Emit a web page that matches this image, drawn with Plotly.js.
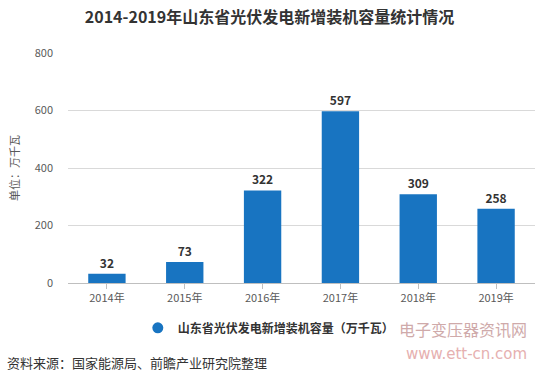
<!DOCTYPE html>
<html><head><meta charset="utf-8">
<script src="https://cdn.plot.ly/plotly-3.0.1.min.js"></script>
<style>html,body{margin:0;padding:0;background:#fff;}#chart{width:550px;height:383px;}</style>
</head><body><div id="chart"></div>
<script>
const years = ["2014年","2015年","2016年","2017年","2018年","2019年"];
const capacity = [32, 73, 322, 597, 309, 258];
const seriesName = "山东省光伏发电新增装机容量（万千瓦）";
const yTicks = [0, 200, 400, 600, 800];
const font = "'Noto Sans CJK SC', 'Microsoft YaHei', sans-serif";
const blue = "#1874c1";

const traces = [
  {type:"bar", x:years, y:capacity, marker:{color:blue}, width:0.48,
   text:capacity.map(String), textposition:"outside", cliponaxis:false,
   textfont:{family:font, size:12, color:"#333"}, texttemplate:"<b>%{text}</b>",
   showlegend:false, hoverinfo:"x+y"},
  {type:"scatter", mode:"markers", x:[null], y:[null], name:"<b>"+seriesName+"</b>",
   marker:{color:blue, size:11, symbol:"circle"}, showlegend:true}
];

const layout = {
  width:550, height:383,
  margin:{l:68, r:15, t:53, b:100},
  paper_bgcolor:"#fff", plot_bgcolor:"#fff",
  font:{family:font, color:"#595959", size:11},
  title:{text:"<b>2014-2019年山东省光伏发电新增装机容量统计情况</b>", x:0.49, xanchor:"center", y:0.955, yanchor:"middle",
         font:{family:font, size:16, color:"#333"}},
  xaxis:{type:"category", showgrid:false, showline:true, linecolor:"#bfbfbf", linewidth:1,
         ticks:"outside", ticklen:5, tickcolor:"#bfbfbf", tickfont:{family:font, size:11, color:"#595959"}},
  yaxis:{range:[0,800], tickvals:yTicks, showgrid:true, gridcolor:"#d9d9d9", zeroline:false, showline:false,
         ticks:"", ticklabelstandoff:14, tickfont:{family:font, size:11, color:"#595959"},
         title:{text:"单位：万千瓦", standoff:12, font:{family:font, size:11, color:"#595959"}}},
  legend:{orientation:"h", x:0.43, xanchor:"center", y:-0.195, yanchor:"middle",
          font:{family:font, size:12, color:"#333"}},
  annotations:[
    {text:"资料来源：国家能源局、前瞻产业研究院整理", xref:"paper", yref:"paper", x:-68/467, xanchor:"left",
     y:-(362-283)/230, yanchor:"middle", showarrow:false, font:{family:font, size:13, color:"#333"}, xshift:5},
    {text:"电子变压器资讯网", xref:"paper", yref:"paper", x:1, xanchor:"right", y:-(329-283)/230, yanchor:"middle",
     showarrow:false, font:{family:font, size:16, color:"#cfaaaa"}, xshift:-6},
    {text:"www.ett-cn.com", xref:"paper", yref:"paper", x:1, xanchor:"right", y:-(354-283)/230, yanchor:"middle",
     showarrow:false, font:{family:"DejaVu Sans", size:15, color:"#e6b0b0"}, xshift:-6}
  ]
};
Plotly.newPlot("chart", traces, layout, {displayModeBar:false, staticPlot:true});
</script></body></html>
